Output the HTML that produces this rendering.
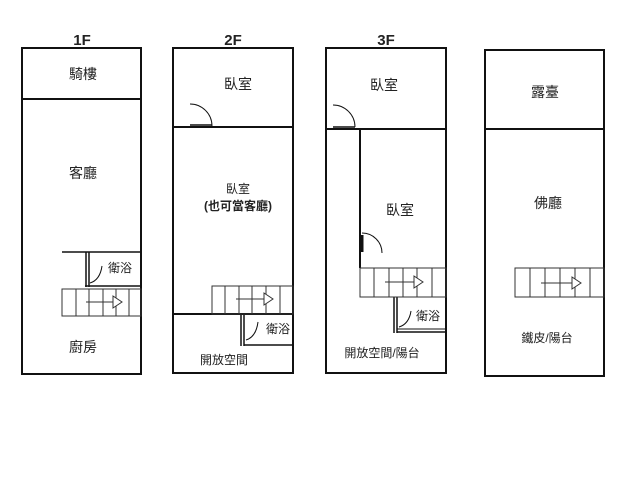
<!DOCTYPE html>
<html><head><meta charset="utf-8"><style>
html,body{margin:0;padding:0;background:#fff;}
svg{display:block;}
text{font-family:"Liberation Sans","Noto Sans CJK TC",sans-serif;fill:#222;}
</style></head><body>
<svg width="640" height="480" viewBox="0 0 640 480" xmlns="http://www.w3.org/2000/svg">
<g stroke="#111" fill="none" stroke-width="2">
<!-- 1F -->
<rect x="22" y="48" width="119" height="326"/>
<line x1="22" y1="99" x2="141" y2="99"/>
<line x1="62" y1="252" x2="141" y2="252" stroke-width="1.5"/>
<line x1="86" y1="252" x2="86" y2="287" stroke-width="1.5"/>
<line x1="89" y1="252" x2="89" y2="287" stroke-width="1.5"/>
<line x1="85" y1="286" x2="141" y2="286" stroke-width="1.5"/>
<line x1="85" y1="289" x2="141" y2="289" stroke-width="1"/>
<path d="M90 283 Q100 280 102 266" stroke-width="1"/>
<!-- 2F -->
<rect x="173" y="48" width="120" height="325"/>
<line x1="173" y1="127" x2="293" y2="127"/>
<line x1="173" y1="314" x2="293" y2="314"/>
<path d="M190 104 A22 22 0 0 1 212 126" stroke-width="1"/>
<line x1="190" y1="125" x2="212" y2="125" stroke-width="1.5"/>
<line x1="241" y1="314" x2="241" y2="346" stroke-width="1.5"/>
<line x1="244" y1="314" x2="244" y2="346" stroke-width="1.5"/>
<line x1="244" y1="345" x2="293" y2="345" stroke-width="1.5"/>
<path d="M246 340 Q256 337 258 322" stroke-width="1"/>
<!-- 3F -->
<rect x="326" y="48" width="120" height="325"/>
<line x1="326" y1="129" x2="446" y2="129"/>
<line x1="360" y1="129" x2="360" y2="268"/>
<path d="M333 105 A22 22 0 0 1 355 127" stroke-width="1"/>
<line x1="333" y1="127" x2="355" y2="127" stroke-width="1.5"/>
<path d="M362 233 A20 20 0 0 1 382 253" stroke-width="1"/>
<line x1="362" y1="235" x2="362" y2="252" stroke-width="3"/>
<line x1="394" y1="297" x2="394" y2="333" stroke-width="1.5"/>
<line x1="397" y1="297" x2="397" y2="333" stroke-width="1.5"/>
<line x1="397" y1="332" x2="446" y2="332" stroke-width="1.5"/>
<line x1="397" y1="329" x2="446" y2="329" stroke-width="1"/>
<path d="M399 327 Q409 324 411 311" stroke-width="1"/>
<!-- 4F -->
<rect x="485" y="50" width="119" height="326"/>
<line x1="485" y1="129" x2="604" y2="129"/>
</g>
<g stroke="#333" fill="none" stroke-width="1">
<!-- stairs 1F -->
<rect x="62" y="289" width="79" height="27"/>
<path d="M76 289V316M89 289V316M103 289V316M116 289V316M129 289V316"/>
<line x1="86" y1="302" x2="113" y2="302"/><path d="M113 296L122 302L113 308Z" fill="#fff"/>
<!-- stairs 2F -->
<rect x="212" y="286" width="81" height="28"/>
<path d="M225 286V314M239 286V314M252 286V314M266 286V314M280 286V314"/>
<line x1="236" y1="299" x2="264" y2="299"/><path d="M264 293L273 299L264 305Z" fill="#fff"/>
<!-- stairs 3F -->
<rect x="360" y="268" width="86" height="29"/>
<path d="M374 268V297M389 268V297M403 268V297M417 268V297M432 268V297"/>
<line x1="385" y1="282" x2="414" y2="282"/><path d="M414 276L423 282L414 288Z" fill="#fff"/>
<!-- stairs 4F -->
<rect x="515" y="268" width="89" height="29"/>
<path d="M530 268V297M545 268V297M560 268V297M575 268V297M590 268V297"/>
<line x1="541" y1="283" x2="572" y2="283"/><path d="M572 277L581 283L572 289Z" fill="#fff"/>
</g>
<g font-size="14" text-anchor="middle">
<text x="82" y="45" font-weight="bold" font-size="15">1F</text>
<text x="233" y="45" font-weight="bold" font-size="15">2F</text>
<text x="386" y="45" font-weight="bold" font-size="15">3F</text>
<text x="83" y="79">騎樓</text>
<text x="83" y="178">客廳</text>
<text x="120" y="272" font-size="12">衛浴</text>
<text x="83" y="352">廚房</text>
<text x="238" y="89">臥室</text>
<text x="238" y="193" font-size="12">臥室</text>
<text x="238" y="210" font-size="12" font-weight="bold">(也可當客廳)</text>
<text x="278" y="333" font-size="12">衛浴</text>
<text x="224" y="364" font-size="12">開放空間</text>
<text x="384" y="90">臥室</text>
<text x="400" y="215">臥室</text>
<text x="428" y="320" font-size="12">衛浴</text>
<text x="382" y="357" font-size="12">開放空間/陽台</text>
<text x="545" y="97">露臺</text>
<text x="548" y="208">佛廳</text>
<text x="547" y="342" font-size="12">鐵皮/陽台</text>
</g>
</svg>
</body></html>
